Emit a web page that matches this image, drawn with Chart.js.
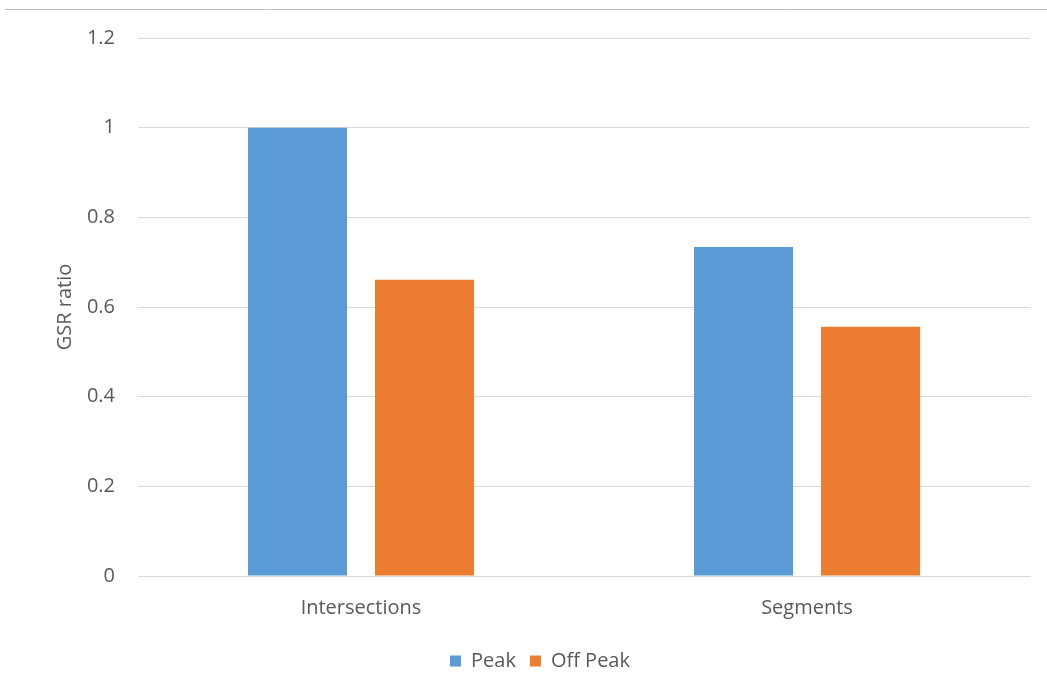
<!DOCTYPE html>
<html>
<head>
<meta charset="utf-8">
<script src="https://cdn.jsdelivr.net/npm/chart.js@4/dist/chart.umd.min.js"></script>
<style>
html,body{margin:0;padding:0;background:#fff;}
#wrap{width:1047px;height:691px;position:relative;}
</style>
</head>
<body>
<div id="wrap"><canvas id="c" width="1047" height="691"></canvas></div>
<script>
const categories = ["Intersections", "Segments"];
const peakValues = [1.0, 0.734];
const offPeakValues = [0.661, 0.556];
const seriesNames = ["Peak", "Off Peak"];
const yTicks = [0, 0.2, 0.4, 0.6, 0.8, 1, 1.2];
const yTitle = "GSR ratio";

const FONT = "'Open Sans', sans-serif";
const TXT = "#595959";
const GRID = "#d9d9d9";
const FS = 20;

const topLine = {
  id: 'topLine',
  beforeDraw(chart) {
    const ctx = chart.ctx;
    ctx.save();
    ctx.strokeStyle = '#bfbfbf';
    ctx.lineWidth = 1;
    ctx.beginPath();
    ctx.moveTo(5, 9.5);
    ctx.lineTo(1047, 9.5);
    ctx.stroke();
    ctx.restore();
  }
};

new Chart(document.getElementById('c'), {
  type: 'bar',
  data: {
    labels: categories,
    datasets: [
      { label: seriesNames[0], data: peakValues, backgroundColor: '#5b9bd5', borderColor: '#5b9bd5', borderWidth: 0 },
      { label: seriesNames[1], data: offPeakValues, backgroundColor: '#ed7d31', borderColor: '#ed7d31', borderWidth: 0 }
    ]
  },
  plugins: [topLine],
  options: {
    responsive: false,
    animation: false,
    events: [],
    layout: { padding: { left: 50, right: 17, top: 38, bottom: 10 } },
    datasets: { bar: { categoryPercentage: 0.5695, barPercentage: 0.78 } },
    plugins: {
      legend: {
        position: 'bottom',
        labels: {
          boxWidth: 11, boxHeight: 11, color: TXT, padding: 14,
          font: { family: FONT, size: FS }
        }
      },
      tooltip: { enabled: false }
    },
    scales: {
      x: {
        grid: { display: false },
        border: { display: true, color: GRID },
        ticks: { color: TXT, font: { family: FONT, size: FS }, padding: 12 },
        afterFit(s) { s.height = 61; }
      },
      y: {
        min: 0, max: 1.2,
        afterBuildTicks(s) { s.ticks = yTicks.map(v => ({ value: v })); },
        grid: { color: GRID, drawTicks: false },
        border: { display: false },
        ticks: { color: TXT, font: { family: FONT, size: FS }, padding: 23,
          callback: v => String(Math.round(v * 10) / 10) },
        title: { display: true, text: yTitle, color: TXT, font: { family: FONT, size: FS }, padding: { top: 3, bottom: 0 } },
        afterFit(s) { s.width = 88; }
      }
    }
  }
});
</script>
</body>
</html>
